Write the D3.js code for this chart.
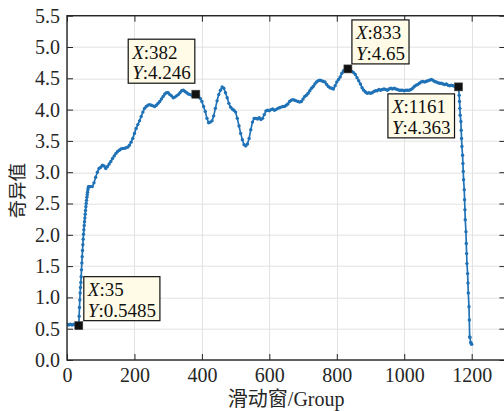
<!DOCTYPE html>
<html>
<head>
<meta charset="utf-8">
<script src="https://cdn.jsdelivr.net/npm/d3@7"></script>
<style>
  html, body { margin: 0; padding: 0; background: #fff; overflow: hidden; }
  svg { display: block; }
  .serif { font-family: "Liberation Serif", "DejaVu Serif", serif; }
  .mixed { font-family: "Liberation Serif", "Noto Sans CJK SC", serif; }
  .cjk { font-family: "Noto Sans CJK SC", sans-serif; }
</style>
</head>
<body>
<svg id="chart" width="504" height="411"></svg>
<script>
// Sliding-window group index (x) and singular value (y)
const groupIdx = [
  1, 5, 10, 15, 20, 25, 30, 35,
  36, 37, 38, 39, 40, 41, 42, 43, 44, 45,
  46, 47, 48, 49, 50, 51, 52, 53, 54, 55,
  56, 57, 58, 59, 60, 61, 62, 63, 64,
  65, 70, 75, 80, 85, 90, 95, 100, 105, 110,
  115, 120, 125, 130, 135, 140, 145, 150, 155, 160,
  165, 170, 175, 180, 185, 190, 195, 200, 205, 210,
  215, 220, 225, 230, 235, 240, 245, 250, 255, 260,
  265, 270, 275, 280, 285, 290, 295, 300, 305, 310,
  315, 320, 325, 330, 335, 340, 345, 350, 355, 360,
  365, 370, 375, 380, 382,
  385, 390, 395, 400, 405, 410, 415, 420, 425, 430,
  435, 440, 445, 450, 455, 460, 465, 470, 475, 480,
  485, 490, 495, 500, 505, 510, 515, 520, 525, 530,
  535, 540, 545, 550, 555, 560, 565, 570, 575, 580,
  585, 590, 595, 600, 605, 610, 615, 620, 625, 630,
  635, 640, 645, 650, 655, 660, 665, 670, 675, 680,
  685, 690, 695, 700, 705, 710, 715, 720, 725, 730,
  735, 740, 745, 750, 755, 760, 765, 770, 775, 780,
  785, 790, 795, 800, 805, 810, 815, 820, 825, 830,
  833,
  835, 840, 845, 850, 855, 860, 865, 870, 875, 880,
  885, 890, 895, 900, 905, 910, 915, 920, 925, 930,
  935, 940, 945, 950, 955, 960, 965, 970, 975, 980,
  985, 990, 995, 1000, 1005, 1010, 1015, 1020, 1025, 1030,
  1035, 1040, 1045, 1050, 1055, 1060, 1065, 1070, 1075, 1080,
  1085, 1090, 1095, 1100, 1105, 1110, 1115, 1120, 1125, 1130,
  1135, 1140, 1145, 1150, 1155, 1161,
  1163, 1164, 1165, 1166, 1168, 1169, 1170, 1171, 1173, 1174,
  1175, 1176, 1178, 1179, 1180, 1181, 1183, 1184, 1185, 1186,
  1188, 1189, 1190, 1192, 1193, 1194, 1195, 1197, 1199, 1200
];
const singularVal = [
  0.57, 0.56, 0.57, 0.56, 0.57, 0.56, 0.56, 0.5485,
  0.70, 0.84, 0.96, 1.07, 1.16, 1.24, 1.33, 1.44, 1.55, 1.65,
  1.75, 1.84, 1.93, 2.01, 2.08, 2.15, 2.21, 2.27, 2.33, 2.39,
  2.45, 2.50, 2.55, 2.60, 2.64, 2.68, 2.72, 2.75, 2.77,
  2.77, 2.77, 2.77, 2.83, 2.92, 3.00, 3.06, 3.08, 3.11, 3.10,
  3.06, 3.09, 3.13, 3.17, 3.22, 3.26, 3.30, 3.33, 3.35, 3.37,
  3.38, 3.38, 3.39, 3.40, 3.43, 3.48, 3.54, 3.62, 3.70, 3.76,
  3.82, 3.89, 3.96, 4.02, 4.05, 4.07, 4.08, 4.07, 4.06, 4.05,
  4.07, 4.10, 4.13, 4.17, 4.21, 4.25, 4.27, 4.27, 4.24, 4.22,
  4.19, 4.20, 4.22, 4.24, 4.27, 4.30, 4.31, 4.29, 4.27, 4.25,
  4.24, 4.23, 4.25, 4.26, 4.246,
  4.24, 4.22, 4.18, 4.13, 4.05, 3.97, 3.86, 3.79, 3.80, 3.82,
  3.90, 4.02, 4.14, 4.24, 4.31, 4.36, 4.34, 4.27, 4.19, 4.10,
  4.04, 4.01, 3.99, 3.96, 3.86, 3.74, 3.62, 3.52, 3.44, 3.42,
  3.45, 3.54, 3.68, 3.80, 3.86, 3.86, 3.85, 3.87, 3.84, 3.86,
  3.92, 3.98, 3.99, 3.98, 4.00, 4.01, 3.99, 4.00, 4.02, 4.03,
  4.04, 4.05, 4.05, 4.07, 4.09, 4.13, 4.15, 4.16, 4.15, 4.14,
  4.13, 4.12, 4.13, 4.17, 4.21, 4.23, 4.26, 4.30, 4.34, 4.37,
  4.41, 4.44, 4.46, 4.47, 4.46, 4.45, 4.44, 4.40, 4.37, 4.35,
  4.34, 4.33, 4.38, 4.44, 4.48, 4.52, 4.58, 4.62, 4.64, 4.64,
  4.65,
  4.64, 4.63, 4.61, 4.59, 4.56, 4.51, 4.46, 4.41, 4.35, 4.31,
  4.28, 4.26, 4.27, 4.26, 4.27, 4.29, 4.30, 4.30, 4.32, 4.31,
  4.32, 4.33, 4.32, 4.31, 4.33, 4.34, 4.33, 4.34, 4.33, 4.32,
  4.31, 4.31, 4.31, 4.30, 4.31, 4.31, 4.31, 4.32, 4.34, 4.37,
  4.39, 4.40, 4.42, 4.44, 4.45, 4.44, 4.45, 4.46, 4.47, 4.48,
  4.47, 4.45, 4.44, 4.43, 4.42, 4.42, 4.41, 4.40, 4.41, 4.39,
  4.38, 4.39, 4.38, 4.37, 4.36, 4.363,
  4.23, 4.13, 4.02, 3.91, 3.81, 3.67, 3.54, 3.41, 3.27, 3.14,
  3.01, 2.88, 2.72, 2.56, 2.40, 2.24, 2.05, 1.86, 1.70, 1.54,
  1.38, 1.23, 1.07, 0.85, 0.64, 0.37, 0.36, 0.28, 0.26, 0.25
];

// Axis ticks
const xTicks = [0, 200, 400, 600, 800, 1000, 1200];
const yTicks = [0, 0.5, 1, 1.5, 2, 2.5, 3, 3.5, 4, 4.5, 5, 5.5];

// Data tips
const tipX = [35, 382, 833, 1161];
const tipY = [0.5485, 4.246, 4.65, 4.363];
const tipYText = ["0.5485", "4.246", "4.65", "4.363"];

const xLabel = "滑动窗/Group";
const yLabel = "奇异值";

const W = 504, H = 411;
const margin = { left: 67, top: 15.7, right: -1.4, bottom: 51 };
const plotW = W - margin.left - margin.right;
const plotH = H - margin.top - margin.bottom;

const ink = "#262626";
const lineColor = "#1f72b6";

const svg = d3.select("#chart");
const g = svg.append("g").attr("transform", `translate(${margin.left},${margin.top})`);

const x = d3.scaleLinear().domain([0, 1300]).range([0, plotW]);
const y = d3.scaleLinear().domain([0, 5.5]).range([plotH, 0]);

// Grid
const grid = g.append("g").attr("stroke", "#e3e3e3").attr("stroke-width", 1);
grid.selectAll(".gx").data(xTicks).join("line")
  .attr("x1", d => Math.round(x(d)) + 0.5).attr("x2", d => Math.round(x(d)) + 0.5)
  .attr("y1", 0).attr("y2", plotH);
grid.selectAll(".gy").data(yTicks).join("line")
  .attr("y1", d => Math.round(y(d)) + 0.5).attr("y2", d => Math.round(y(d)) + 0.5)
  .attr("x1", 0).attr("x2", plotW);

// Series: line with point markers
const pts = groupIdx.map((d, i) => [d, singularVal[i]]);
g.append("defs").append("clipPath").attr("id", "clip")
  .append("rect").attr("width", plotW).attr("height", plotH);
const series = g.append("g").attr("clip-path", "url(#clip)");
series.append("path")
  .datum(pts)
  .attr("fill", "none")
  .attr("stroke", lineColor)
  .attr("stroke-width", 1.7)
  .attr("stroke-linejoin", "round")
  .attr("d", d3.line().x(d => x(d[0])).y(d => y(d[1])));
series.selectAll("circle").data(pts).join("circle")
  .attr("cx", d => x(d[0])).attr("cy", d => y(d[1]))
  .attr("r", 1.7).attr("fill", lineColor);

// Axes (ticks pointing inward, boxed)
function styleAxis(sel) {
  sel.attr("font-family", null).attr("font-size", null);
  sel.select(".domain").remove();
  sel.selectAll(".tick line").attr("stroke", ink).attr("stroke-width", 1);
  sel.selectAll("text").attr("class", "serif").attr("fill", ink).attr("font-size", 20);
}
g.append("g").attr("transform", `translate(0,${plotH})`)
  .call(d3.axisBottom(x).tickValues(xTicks).tickSize(-6).tickPadding(8).tickFormat(d3.format("d")))
  .call(styleAxis);
g.append("g")
  .call(d3.axisLeft(y).tickValues(yTicks).tickSize(-6).tickPadding(7).tickFormat(d3.format(".1f")))
  .call(styleAxis);
g.append("g")
  .call(d3.axisTop(x).tickValues(xTicks).tickSize(-6).tickFormat(""))
  .call(styleAxis);
g.append("g").attr("transform", `translate(${plotW},0)`)
  .call(d3.axisRight(y).tickValues(yTicks).tickSize(-6).tickFormat(""))
  .call(styleAxis);

// Frame
g.append("rect").attr("width", plotW).attr("height", plotH)
  .attr("fill", "none").attr("stroke", ink).attr("stroke-width", 1.4);

// Axis titles
svg.append("text")
  .attr("class", "mixed")
  .attr("x", margin.left + plotW / 2).attr("y", 406)
  .attr("text-anchor", "middle")
  .attr("fill", ink)
  .attr("font-size", 20)
  .text(xLabel);

svg.append("text")
  .attr("class", "cjk")
  .attr("transform", `translate(24,${margin.top + plotH / 2 + 3}) rotate(-90)`)
  .attr("text-anchor", "middle")
  .attr("fill", ink)
  .attr("font-size", 18.5)
  .text(yLabel);

// Data tips: placement of each box relative to its marker
const tipPlace = [
  { dx: 5, dy: -5, side: "ne" },
  { dx: -1, dy: -11, side: "nw" },
  { dx: 4, dy: -5, side: "ne" },
  { dx: -4, dy: 7, side: "sw" }
];
const tips = g.append("g");
tipX.forEach((tx, i) => {
  const px = x(tx), py = y(tipY[i]);
  const p = tipPlace[i];
  const tg = tips.append("g");
  const rect = tg.append("rect").attr("fill", "#fffbe6").attr("stroke", "#111").attr("stroke-width", 1.2);
  const text = tg.append("g").attr("class", "serif").attr("font-size", 19).attr("fill", "#111");
  const l1 = text.append("text").attr("x", 0).attr("y", 19.5);
  l1.append("tspan").attr("font-style", "italic").text("X");
  l1.append("tspan").text(":" + tx);
  const l2 = text.append("text").attr("x", 0).attr("y", 40);
  l2.append("tspan").attr("font-style", "italic").text("Y");
  l2.append("tspan").text(":" + tipYText[i]);
  const tw = Math.max(l1.node().getComputedTextLength(), l2.node().getComputedTextLength());
  const bw = tw + 8, bh = 44;
  const bx = p.side.includes("e") ? px + p.dx : px + p.dx - bw;
  const by = p.side.includes("n") ? py + p.dy - bh : py + p.dy;
  rect.attr("x", bx).attr("y", by).attr("width", bw).attr("height", bh);
  text.attr("transform", `translate(${bx + 4},${by})`);
  tips.append("rect")
    .attr("x", px - 4).attr("y", py - 4).attr("width", 8).attr("height", 8)
    .attr("fill", "#111").attr("stroke", "#444").attr("stroke-width", 0.6);
});
</script>
</body>
</html>
